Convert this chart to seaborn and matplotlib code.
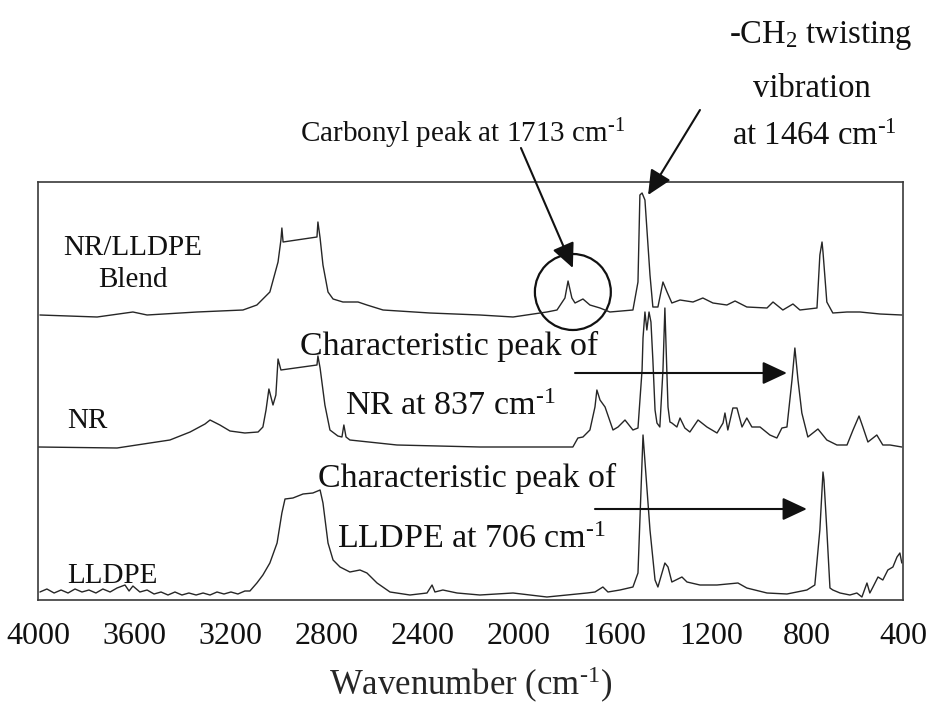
import numpy as np
import pandas as pd
import matplotlib
matplotlib.use("Agg")
import matplotlib.pyplot as plt
from matplotlib.patches import Ellipse
import seaborn as sns

# ---------------- data (wavenumber cm-1, stacked relative intensity) ----------------
blend_wn = [3992, 3754, 3605, 3546, 3338, 3147, 3089, 3035, 3001, 2989, 2985, 2980,
            2839, 2835, 2826, 2814, 2793, 2772, 2731, 2668, 2631, 2564, 2369, 2161,
            2023, 1882, 1840, 1807, 1794, 1778, 1765, 1732, 1703, 1661, 1620, 1524,
            1503, 1495, 1486, 1474, 1453, 1441, 1420, 1399, 1382, 1362, 1328, 1274,
            1233, 1191, 1133, 1099, 1050, 966, 941, 900, 858, 829, 758, 746, 737,
            733, 717, 692, 633, 579, 496, 405]
blend_int = [285, 283, 288, 285, 288, 290, 295, 308, 338, 360, 372, 358,
             363, 378, 362, 335, 308, 301, 298, 298, 295, 290, 287, 285,
             283, 288, 290, 302, 319, 302, 297, 301, 295, 292, 288, 290,
             318, 405, 407, 400, 325, 293, 293, 318, 308, 297, 300, 298,
             302, 297, 295, 299, 293, 292, 298, 290, 296, 290, 292, 345, 358,
             348, 298, 287, 288, 288, 286, 285]

nr_wn = [4000, 3671, 3534, 3451, 3367, 3305, 3284, 3243, 3201, 3139, 3084, 3064,
         3051, 3039, 3022, 3010, 3001, 2989, 2839, 2835, 2826, 2806, 2785, 2752,
         2735, 2727, 2718, 2702, 2506, 2161, 1774, 1753, 1732, 1703, 1682, 1674,
         1661, 1640, 1607, 1586, 1557, 1524, 1503, 1486, 1482, 1474, 1466, 1457,
         1449, 1441, 1432, 1424, 1412, 1399, 1391, 1383, 1378, 1370, 1362, 1341,
         1328, 1308, 1287, 1253, 1216, 1174, 1149, 1141, 1129, 1108, 1091, 1070,
         1050, 1029, 995, 954, 925, 904, 883, 862, 850, 837, 821, 796, 754, 717,
         675, 633, 608, 583, 567, 546, 509, 484, 454, 405]
nr_int = [153, 152, 157, 160, 168, 176, 180, 175, 169, 167, 168, 173,
          190, 211, 195, 205, 241, 230, 235, 244, 232, 195, 170, 164,
          163, 175, 163, 160, 155, 153, 153, 162, 163, 170, 193, 210,
          200, 193, 170, 173, 180, 170, 172, 230, 262, 288, 270, 288,
          278, 240, 190, 177, 173, 230, 292, 230, 193, 178, 177, 173,
          182, 172, 168, 180, 173, 167, 177, 187, 170, 192, 192, 173,
          182, 173, 173, 165, 162, 172, 173, 220, 252, 220, 187, 163, 171, 160,
          155, 155, 170, 184, 173, 158, 165, 155, 155, 153]

lldpe_wn = [3992, 3963, 3933, 3904, 3875, 3846, 3817, 3788, 3759, 3730, 3700, 3671,
            3638, 3621, 3605, 3576, 3546, 3517, 3488, 3459, 3430, 3401, 3372, 3342,
            3313, 3284, 3255, 3226, 3197, 3168, 3139, 3118, 3089, 3064, 3035, 3005,
            2985, 2972, 2939, 2897, 2856, 2826, 2814, 2793, 2772, 2743, 2702, 2660,
            2631, 2589, 2535, 2452, 2381, 2360, 2348, 2315, 2256, 2161, 2023, 1882,
            1715, 1682, 1649, 1628, 1578, 1524, 1503, 1482, 1453, 1432, 1420, 1391,
            1378, 1362, 1320, 1299, 1245, 1174, 1087, 1050, 966, 883, 800, 767,
            746, 733, 729, 717, 704, 692, 662, 621, 592, 571, 550, 538, 525,
            504, 484, 463, 442, 425, 413, 405]
lldpe_int = [8, 11, 7, 10, 7, 11, 8, 10, 7, 11, 8, 12,
             15, 9, 14, 8, 10, 6, 8, 5, 8, 5, 7, 5,
             7, 5, 8, 6, 8, 6, 9, 9, 17, 25, 37, 57,
             87, 101, 102, 106, 107, 110, 97, 57, 40, 33, 28, 30,
             27, 17, 8, 5, 7, 15, 8, 10, 7, 5, 7, 3,
             7, 8, 13, 8, 10, 13, 27, 165, 70, 20, 13, 37,
             33, 18, 23, 18, 15, 15, 17, 12, 7, 6, 10, 15,
             70, 128, 120, 70, 12, 10, 7, 5, 7, 3, 17, 7, 13,
             23, 20, 30, 33, 43, 47, 37]

trace_names = ["NR/LLDPE Blend", "NR", "LLDPE"]
x_ticks = [4000, 3600, 3200, 2800, 2400, 2000, 1600, 1200, 800, 400]

df = pd.concat([
    pd.DataFrame({"wn": blend_wn, "a": blend_int, "trace": trace_names[0]}),
    pd.DataFrame({"wn": nr_wn, "a": nr_int, "trace": trace_names[1]}),
    pd.DataFrame({"wn": lldpe_wn, "a": lldpe_int, "trace": trace_names[2]}),
])

# ---------------- style ----------------
sns.set_theme(style="white")
plt.rcParams["font.family"] = ["Liberation Serif", "DejaVu Serif"]
plt.rcParams["mathtext.fontset"] = "custom"
plt.rcParams["mathtext.rm"] = "Liberation Serif"
plt.rcParams["mathtext.it"] = "Liberation Serif:italic"

fig = plt.figure(figsize=(9.31, 7.06), dpi=100)
ax = fig.add_axes([38 / 931, 106 / 706, 865 / 931, 418 / 706])

line_color = "#262626"
for name in trace_names:
    sub = df[df["trace"] == name]
    sns.lineplot(data=sub, x="wn", y="a", ax=ax, color=line_color, lw=1.0,
                 estimator=None, sort=False, legend=False)

SUP = "$^{\\text{-1}}$"
ax.set_xlim(4000, 400)
ax.set_ylim(0, 418)
ax.set_xticks(x_ticks)
ax.set_xticklabels([str(t) for t in x_ticks])
ax.set_yticks([])
ax.set_ylabel("")
ax.set_xlabel("Wavenumber (cm" + SUP + ")", fontsize=25, labelpad=10)
ax.tick_params(axis="x", direction="in", length=5, width=0.8, colors="#555555",
               labelsize=23, labelcolor="#111111", pad=16)
for sp in ax.spines.values():
    sp.set_color("#3a3a3a")
    sp.set_linewidth(1.2)

# ---------------- annotations ----------------
tc = "#111111"
big = 24.5
small = 21
top = 23.5
ax.text(3605, 345, "NR/LLDPE", fontsize=small, ha="center", va="baseline", color=tc)
ax.text(3605, 313, "Blend", fontsize=small, ha="center", va="baseline", color=tc)
ax.text(3879, 172, "NR", fontsize=small, ha="left", va="baseline", color=tc)
ax.text(3879, 17, "LLDPE", fontsize=small, ha="left", va="baseline", color=tc)

ax.text(2910, 458, "Carbonyl peak at 1713 cm" + SUP, fontsize=21,
        ha="left", va="baseline", color=tc, clip_on=False)
ax.text(742, 557, "-CH$_{\\mathregular{2}}$ twisting", fontsize=top, ha="center",
        va="baseline", color=tc, clip_on=False)
ax.text(779, 503, "vibration", fontsize=top, ha="center", va="baseline", color=tc,
        clip_on=False)
ax.text(767, 455, "at 1464 cm" + SUP, fontsize=top, ha="center",
        va="baseline", color=tc, clip_on=False)

ax.text(2910, 245, "Characteristic peak of", fontsize=big, ha="left", va="baseline", color=tc)
ax.text(2722, 185, "NR at 837 cm" + SUP, fontsize=big, ha="left",
        va="baseline", color=tc)
ax.text(2835, 113, "Characteristic peak of", fontsize=big, ha="left", va="baseline", color=tc)
ax.text(2756, 52, "LLDPE at 706 cm" + SUP, fontsize=big, ha="left",
        va="baseline", color=tc)

arrow = dict(arrowstyle="-|>,head_length=0.75,head_width=0.35", color="#111111", lw=1.5,
             mutation_scale=20, shrinkA=0, shrinkB=0)
ax.annotate("", xy=(1774, 332), xytext=(1990, 452), arrowprops=arrow, annotation_clip=False)
ax.annotate("", xy=(1461, 405), xytext=(1245, 490), arrowprops=arrow, annotation_clip=False)
ax.annotate("", xy=(883, 227), xytext=(1765, 227), arrowprops=arrow)
ax.annotate("", xy=(800, 91), xytext=(1682, 91), arrowprops=arrow)

ax.add_patch(Ellipse((1774, 308), width=316, height=76, fill=False, ec="#111111", lw=1.6))

fig.savefig("out.png", dpi=100)
